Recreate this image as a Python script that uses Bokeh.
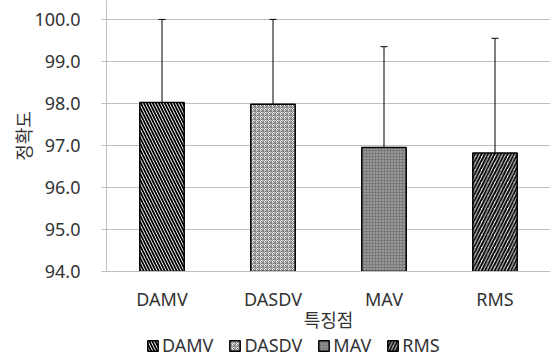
from bokeh.plotting import figure
from bokeh.layouts import column
from bokeh.models import (ColumnDataSource, FactorRange, Range1d, Whisker, TeeHead,
                          Legend, LegendItem, FixedTicker, NumeralTickFormatter)
from bokeh.embed import file_html
from bokeh.resources import INLINE

# ---- data ----
categories = ["DAMV", "DASDV", "MAV", "RMS"]
accuracy = [98.02, 97.98, 96.95, 96.82]
err_upper = [100.0, 100.0, 99.35, 99.55]
err_lower = [96.0, 95.72, 94.53, 94.09]
y_ticks = [94, 95, 96, 97, 98, 99, 100]
y_min, y_max = 94.0, 100.45

# ---- styles ----
fills = ["white", "white", "#7a7a7a", "white"]
hatches = ["left_diagonal_line", "criss_cross", "dot", "right_diagonal_line"]
hatch_colors = ["black", "#777777", "#c4c4c4", "black"]
hatch_scales = [6.0, 4.0, 3.0, 6.5]
hatch_weights = [1.8, 1.0, 1.4, 2.0]

LAT = "Noto Sans, Noto Sans CJK KR"
KR = "Noto Sans CJK KR"
FS = "18px"

p = figure(x_range=FactorRange(*categories), y_range=Range1d(y_min, y_max),
           width=550, height=334, output_backend="svg", toolbar_location=None,
           min_border_left=106, min_border_right=0, min_border_top=0,
           min_border_bottom=0)
p.outline_line_color = None

src = ColumnDataSource(dict(cat=categories, top=accuracy, up=err_upper, lo=err_lower,
                            fill=fills, hatch=hatches, hcol=hatch_colors,
                            hscale=hatch_scales, hweight=hatch_weights))

bar_kw = dict(x="cat", top="top", bottom=y_min, width=0.4, source=src,
              fill_color="fill", line_color="black", line_width=1.5,
              hatch_pattern="hatch", hatch_color="hcol", hatch_scale="hscale",
              hatch_weight="hweight")
bars = p.vbar(**bar_kw)

wh = Whisker(base="cat", upper="up", lower="lo", source=src,
             line_color="black", line_width=1,
             upper_head=TeeHead(size=7, line_color="black", line_width=1),
             lower_head=TeeHead(size=7, line_color="black", line_width=1))
p.add_layout(wh)

# axes
p.yaxis.ticker = FixedTicker(ticks=y_ticks)
p.yaxis.formatter = NumeralTickFormatter(format="0.0")
p.yaxis.major_label_text_font = LAT
p.yaxis.major_label_text_font_size = FS
p.yaxis.major_label_text_color = "#333333"
p.yaxis.major_tick_out = 5
p.yaxis.major_tick_in = 0
p.yaxis.major_tick_line_color = "#bfbfbf"
p.yaxis.minor_tick_line_color = None
p.yaxis.axis_line_color = "#bfbfbf"
p.yaxis.major_label_standoff = 21
p.yaxis.axis_label = "정확도"
p.yaxis.axis_label_text_font = KR
p.yaxis.axis_label_text_font_size = FS
p.yaxis.axis_label_text_font_style = "normal"
p.yaxis.axis_label_text_color = "#333333"
p.yaxis.axis_label_standoff = -5

p.xaxis.major_label_text_font = LAT
p.xaxis.major_label_text_font_size = FS
p.xaxis.major_label_text_color = "#333333"
p.xaxis.major_tick_line_color = None
p.xaxis.axis_line_color = "#bfbfbf"
p.xaxis.major_label_standoff = 9
p.xaxis.axis_label = "특징점"
p.xaxis.axis_label_text_font = KR
p.xaxis.axis_label_text_font_size = FS
p.xaxis.axis_label_text_font_style = "normal"
p.xaxis.axis_label_text_color = "#333333"
p.xaxis.axis_label_standoff = -8

p.xgrid.grid_line_color = None
p.ygrid.grid_line_color = "#bfbfbf"
p.ygrid.grid_line_width = 1

# legend strip below the chart (its own small canvas so it is not clipped)
leg = figure(x_range=FactorRange(*categories), y_range=Range1d(y_min, y_max),
             width=550, height=26, output_backend="svg", toolbar_location=None,
             min_border=0, outline_line_color=None)
leg.axis.visible = False
leg.grid.visible = False
leg_bars = leg.vbar(**bar_kw)
leg_bars.visible = False

items = [LegendItem(label=c, renderers=[leg_bars], index=i) for i, c in enumerate(categories)]
legend = Legend(items=items, orientation="horizontal", location=(40, 3),
                padding=0, margin=0, spacing=15, glyph_width=13, glyph_height=13,
                label_standoff=3, label_text_font=LAT, label_text_font_size=FS,
                label_text_color="#333333", border_line_color=None,
                background_fill_alpha=0)
leg.add_layout(legend)

open("out.html", "w").write(file_html(column(p, leg), INLINE))
